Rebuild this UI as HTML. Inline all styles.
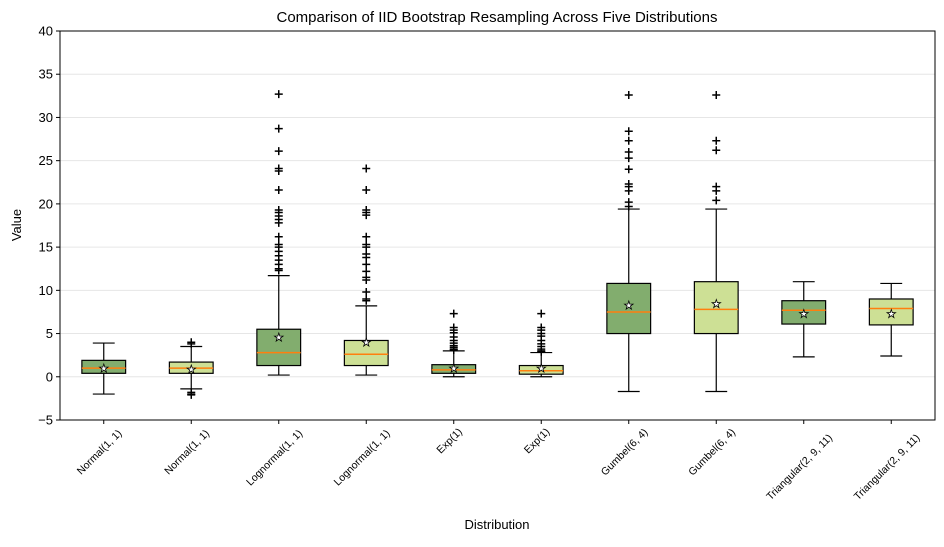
<!DOCTYPE html>
<html><head><meta charset="utf-8"><style>
body{margin:0;background:#fff}
svg text{font-family:"Liberation Sans","DejaVu Sans",sans-serif}
</style></head><body>
<svg id="chart" width="944" height="542" xmlns="http://www.w3.org/2000/svg">
<rect width="944" height="542" fill="#fff"/>
<text x="497" y="22" font-size="15" text-anchor="middle">Comparison of IID Bootstrap Resampling Across Five Distributions</text>
<text x="497" y="529" font-size="13" text-anchor="middle">Distribution</text>
<text x="21" y="225" font-size="13" text-anchor="middle" transform="rotate(-90 21 225)">Value</text>
<g id="grid"></g><g id="marks"></g><g id="axes"></g>
</svg>
<script>
const categories=["Normal(1, 1)","Normal(1, 1)","Lognormal(1, 1)","Lognormal(1, 1)","Exp(1)","Exp(1)","Gumbel(6, 4)","Gumbel(6, 4)","Triangular(2, 9, 11)","Triangular(2, 9, 11)"];
const q1=[0.4,0.4,1.3,1.3,0.4,0.3,5.0,5.0,6.1,6.0];
const medians=[1.0,1.0,2.8,2.6,0.8,0.7,7.5,7.8,7.7,7.9];
const q3=[1.9,1.7,5.5,4.2,1.4,1.3,10.8,11.0,8.8,9.0];
const whiskerLow=[-2.0,-1.4,0.2,0.2,0.0,0.0,-1.7,-1.7,2.3,2.4];
const whiskerHigh=[3.9,3.5,11.7,8.2,3.0,2.8,19.4,19.4,11.0,10.8];
const means=[1.0,0.9,4.6,4.0,1.0,1.0,8.3,8.5,7.3,7.3];
const fliers=[[],[4.0,3.8,-1.8,-2.0,-2.1],
[12.3,12.5,13,13.5,14,14.5,15,15.3,16.2,17.8,18.2,18.6,19,19.3,21.6,23.8,24.1,26.1,28.7,32.7],
[8.8,9,9.8,11.2,11.5,12.2,13,13.8,14.2,15,15.3,16.2,18.7,19,19.3,21.6,24.1],
[3.1,3.2,3.4,3.6,3.9,4.2,4.6,5.1,5.4,5.7,7.3],
[2.9,3.0,3.2,3.5,3.8,4.2,4.7,5.0,5.4,5.7,7.3],
[19.7,20.2,21.5,22,22.3,24,25.3,26,27.3,28.4,32.6],
[20.4,21.5,22,26.2,27.3,32.6],[],[]];
const yTicks=[-5,0,5,10,15,20,25,30,35,40];
const NS="http://www.w3.org/2000/svg";
const L=60,R=935,T=31,B=420;
const y=v=>B-(v+5)/45*(B-T);
const x=i=>L+(i+0.5)*(R-L)/10;
function mk(t,a,p){const e=document.createElementNS(NS,t);for(const k in a)e.setAttribute(k,a[k]);p.appendChild(e);return e;}
const grid=document.getElementById('grid'),marks=document.getElementById('marks'),axes=document.getElementById('axes');
yTicks.forEach(v=>{
const g=mk('line',{x1:L,x2:R,y1:y(v),y2:y(v),stroke:'#e6e6e6','stroke-width':1},grid);


mk('line',{x1:L-4,x2:L,y1:y(v),y2:y(v),stroke:'#000'},axes);
const t=mk('text',{x:L-7,y:y(v)+4.5,'font-size':13,'text-anchor':'end'},axes);t.textContent=v<0?'\u2212'+(-v):v;


});
const hw=(R-L)/10*0.25,cw=(R-L)/10*0.125;
categories.forEach((c,i)=>{
const cx=x(i);
const g=mk('g',{},marks);


mk('line',{x1:cx,x2:cx,y1:y(q1[i]),y2:y(whiskerLow[i]),stroke:'#000','stroke-width':1.2},g);
mk('line',{x1:cx,x2:cx,y1:y(q3[i]),y2:y(whiskerHigh[i]),stroke:'#000','stroke-width':1.2},g);
mk('line',{x1:cx-cw,x2:cx+cw,y1:y(whiskerLow[i]),y2:y(whiskerLow[i]),stroke:'#000','stroke-width':1.2},g);
mk('line',{x1:cx-cw,x2:cx+cw,y1:y(whiskerHigh[i]),y2:y(whiskerHigh[i]),stroke:'#000','stroke-width':1.2},g);
mk('rect',{x:cx-hw,y:y(q3[i]),width:2*hw,height:y(q1[i])-y(q3[i]),fill:i%2?'#cde095':'#82ad6e',stroke:'#000','stroke-width':1.2},g);
mk('line',{x1:cx-hw,x2:cx+hw,y1:y(medians[i]),y2:y(medians[i]),stroke:'#ff7f0e','stroke-width':1.5},g);
fliers[i].forEach(v=>{
const p=mk('path',{d:`M${cx-4},${y(v)}h8M${cx},${y(v)-4}v8`,stroke:'#000','stroke-width':1.5},g);


});
const m=mk('text',{x:cx,y:y(means[i])+4,'font-size':11,'text-anchor':'middle',fill:'#fff',stroke:'#000','stroke-width':0.8},g);m.textContent='★';


mk('line',{x1:cx,x2:cx,y1:B,y2:B+4,stroke:'#000'},axes);
const len=c.length*5.3;
const ty=B+8+len*0.707/2+4;
const t=mk('text',{x:cx-2,y:ty,'font-size':10.5,'text-anchor':'middle',transform:`rotate(-45 ${cx-2} ${ty})`},axes);t.textContent=c;


});
const f=mk('rect',{x:L,y:T,width:R-L,height:B-T,fill:'none',stroke:'#000','stroke-width':1},axes);


</script>
</body></html>
